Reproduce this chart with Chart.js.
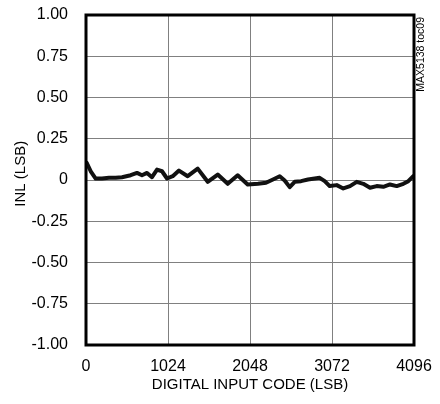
<!DOCTYPE html>
<html>
<head>
<meta charset="utf-8">
<script src="https://cdn.jsdelivr.net/npm/chart.js@4/dist/chart.umd.min.js"></script>
<style>
  html, body { margin: 0; padding: 0; background: #fff; }
  #wrap { width: 440px; height: 404px; }
</style>
</head>
<body>
<div id="wrap"><canvas id="inlChart" width="440" height="404"></canvas></div>
<script>
// INL vs input code
const codes = [9, 59, 121, 200, 287, 371, 450, 558, 637, 699, 762, 824, 887, 949, 1012,
    1083, 1161, 1270, 1395, 1520, 1645, 1770, 1894, 2019, 2148, 2248, 2335, 2419, 2481,
    2544, 2606, 2685, 2772, 2856, 2918, 2981, 3043, 3131, 3213, 3297, 3381, 3463, 3547,
    3630, 3713, 3796, 3880, 3963, 4025, 4087];
const inlValues = [0.104, 0.053, 0.009, 0.009, 0.013, 0.013, 0.017, 0.029, 0.043, 0.029,
    0.043, 0.017, 0.063, 0.053, 0.009, 0.023, 0.057, 0.023, 0.069, -0.011, 0.033, -0.023,
    0.029, -0.027, -0.023, -0.017, 0.003, 0.023, -0.003, -0.043, -0.011, -0.007, 0.003,
    0.009, 0.013, -0.007, -0.037, -0.031, -0.051, -0.037, -0.011, -0.023, -0.047, -0.037,
    -0.041, -0.027, -0.037, -0.023, -0.007, 0.023];

const xTicks = [0, 1024, 2048, 3072, 4096];
const yTicks = [-1, -0.75, -0.5, -0.25, 0, 0.25, 0.5, 0.75, 1];

const FONT = "'Liberation Sans', Arial, sans-serif";

// frame around the plot plus the small figure id on the right
const framePlugin = {
    id: 'frame',
    afterDatasetsDraw(chart) {
        const { ctx, chartArea: a } = chart;
        ctx.save();
        ctx.strokeStyle = '#000';
        ctx.lineWidth = 3;
        ctx.strokeRect(a.left, a.top, a.right - a.left, a.bottom - a.top);
        ctx.restore();
    },
    afterDraw(chart) {
        const { ctx, chartArea: a } = chart;
        ctx.save();
        ctx.translate(a.right + 7, a.top + 2);
        ctx.rotate(-Math.PI / 2);
        ctx.font = "10.5px " + FONT;
        ctx.fillStyle = '#000';
        ctx.textAlign = 'right';
        ctx.textBaseline = 'middle';
        ctx.fillText('MAX5138 toc09', 0, 0);
        ctx.restore();
    }
};

new Chart(document.getElementById('inlChart').getContext('2d'), {
    type: 'line',
    data: {
        datasets: [{
            data: codes.map((c, i) => ({ x: c, y: inlValues[i] })),
            borderColor: '#111',
            borderWidth: 4,
            borderJoinStyle: 'round',
            borderCapStyle: 'round',
            pointRadius: 0,
            tension: 0
        }]
    },
    options: {
        responsive: false,
        animation: false,
        layout: { padding: { top: 15, right: 26, left: 0, bottom: 0 } },
        plugins: { legend: { display: false }, tooltip: { enabled: false } },
        scales: {
            x: {
                type: 'linear',
                min: 0,
                max: 4096,
                afterBuildTicks: s => { s.ticks = xTicks.map(v => ({ value: v })); },
                afterFit: s => { s.height = 59; s.paddingLeft = 0; s.paddingRight = 0; },
                grid: { color: '#808080', lineWidth: 1, drawTicks: false },
                border: { display: false },
                ticks: {
                    color: '#000',
                    padding: 12,
                    maxRotation: 0,
                    font: { family: FONT, size: 16 },
                    callback: v => String(v)
                },
                title: {
                    display: true,
                    text: 'DIGITAL INPUT CODE (LSB)',
                    color: '#000',
                    font: { family: FONT, size: 15 },
                    padding: { top: 0, bottom: 10 }
                }
            },
            y: {
                min: -1,
                max: 1,
                afterBuildTicks: s => { s.ticks = yTicks.map(v => ({ value: v })); },
                afterFit: s => { s.width = 86; s.paddingTop = 0; s.paddingBottom = 0; },
                grid: { color: '#808080', lineWidth: 1, drawTicks: false },
                border: { display: false },
                ticks: {
                    color: '#000',
                    padding: 18,
                    font: { family: FONT, size: 16 },
                    callback: v => v === 0 ? '0' : v.toFixed(2)
                },
                title: {
                    display: true,
                    text: '   INL (LSB)',
                    color: '#000',
                    font: { family: FONT, size: 15 },
                    padding: { top: 12, bottom: 0 }
                }
            }
        }
    },
    plugins: [framePlugin]
});
</script>
</body>
</html>
